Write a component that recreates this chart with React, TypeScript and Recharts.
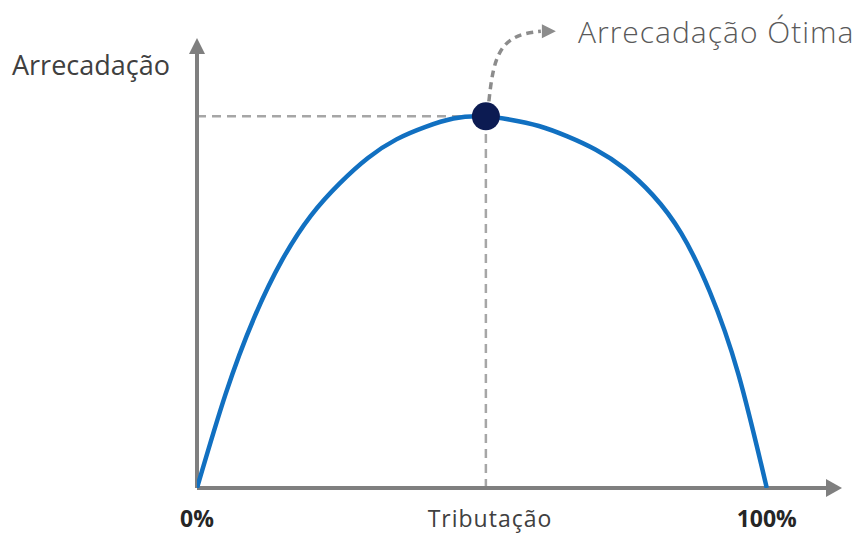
import { ComposedChart, Line, XAxis, YAxis, ReferenceLine, ReferenceDot } from "recharts";

// Curva de Laffer: tributação (%) x arrecadação (índice, pico = 100)
const taxRate = [0, 5, 10, 15, 20, 25, 30, 35, 40, 45, 50, 55, 60, 65, 70, 75, 80, 85, 90, 95, 100];
const revenue = [0, 25.2, 45.7, 61.5, 73.3, 81.9, 88.8, 93.8, 97.1, 99.4, 100, 99.1, 97.4, 94.6, 91, 86, 78.8, 68.5, 52.8, 30.7, 0];
const xTicks = [0, 100];
const peak = { x: 50.7, y: 100 };

const data = taxRate.map((t, i) => ({ tax: t, revenue: revenue[i] }));

const axisColor = "#7f7f7f";
const dashColor = "#a6a6a6";

function ArrowRight(props: any) {
  const { cx, cy } = props;
  return <path d={`M${cx - 12},${cy - 9} L${cx + 4},${cy} L${cx - 12},${cy + 9} Z`} fill={axisColor} />;
}

function ArrowUp(props: any) {
  const { cx, cy } = props;
  return <path d={`M${cx - 8},${cy + 12} L${cx},${cy - 4} L${cx + 8},${cy + 12} Z`} fill={axisColor} />;
}

function PeakMarker(props: any) {
  const { cx, cy } = props;
  return (
    <g>
      <path
        d={`M${cx + 3},${cy - 15} C${cx + 8},${cy - 62} ${cx + 14},${cy - 82} ${cx + 55},${cy - 85}`}
        fill="none"
        stroke="#8c8c8c"
        strokeWidth={3.5}
        strokeDasharray="7 5"
      />
      <path d={`M${cx + 56},${cy - 92} L${cx + 70},${cy - 85} L${cx + 56},${cy - 78} Z`} fill="#8c8c8c" />
      <circle cx={cx} cy={cy} r={14} fill="#0c1b52" />
    </g>
  );
}

export default function App() {
  return (
    <div style={{ position: "absolute", left: 0, top: 0, background: "#fff" }}>
      <ComposedChart
        width={861}
        height={533}
        data={data}
        margin={{ top: 42, right: 23, bottom: 0, left: 197 }}
      >
        <XAxis
          dataKey="tax"
          type="number"
          domain={[0, 112.5]}
          ticks={xTicks}
          tickFormatter={(v: number) => `${v}%`}
          axisLine={false}
          tickLine={false}
          tickSize={0}
          tickMargin={23}
          height={45}
          allowDataOverflow
          tick={{ fontSize: 23, fontWeight: 700, fill: "#262626", fontFamily: "Open Sans" }}
        />
        <YAxis type="number" domain={[0, 120]} hide allowDataOverflow />
        <ReferenceLine
          segment={[{ x: 0, y: 100 }, { x: peak.x, y: 100 }]}
          stroke={dashColor}
          strokeWidth={2.5}
          strokeDasharray="9 6"
        />
        <ReferenceLine
          segment={[{ x: peak.x, y: 0 }, { x: peak.x, y: 100 }]}
          stroke={dashColor}
          strokeWidth={2.5}
          strokeDasharray="9 6"
        />
        <ReferenceLine segment={[{ x: 0, y: 0 }, { x: 0, y: 118 }]} stroke={axisColor} strokeWidth={4} />
        <ReferenceLine segment={[{ x: 0, y: 0 }, { x: 110.5, y: 0 }]} stroke={axisColor} strokeWidth={4} />
        <ReferenceDot x={112.5} y={0} r={1} shape={ArrowRight} />
        <ReferenceDot x={0} y={120} r={1} shape={ArrowUp} />
        <Line
          dataKey="revenue"
          type="natural"
          stroke="#1170c1"
          strokeWidth={4.5}
          dot={false}
          isAnimationActive={false}
        />
        <ReferenceDot x={peak.x} y={peak.y} r={14} shape={PeakMarker} />
        <text x={12} y={75} fontSize={27} fill="#404040" fontFamily="Open Sans">
          Arrecadação
        </text>
        <text x={490} y={527} textAnchor="middle" fontSize={23} fill="#404040" fontFamily="Open Sans" letterSpacing={1}>
          Tributação
        </text>
        <text x={578} y={43} fontSize={30} fill="#595959" fontFamily="Open Sans" fontWeight={300} letterSpacing={1}>
          Arrecadação Ótima
        </text>
      </ComposedChart>
    </div>
  );
}
